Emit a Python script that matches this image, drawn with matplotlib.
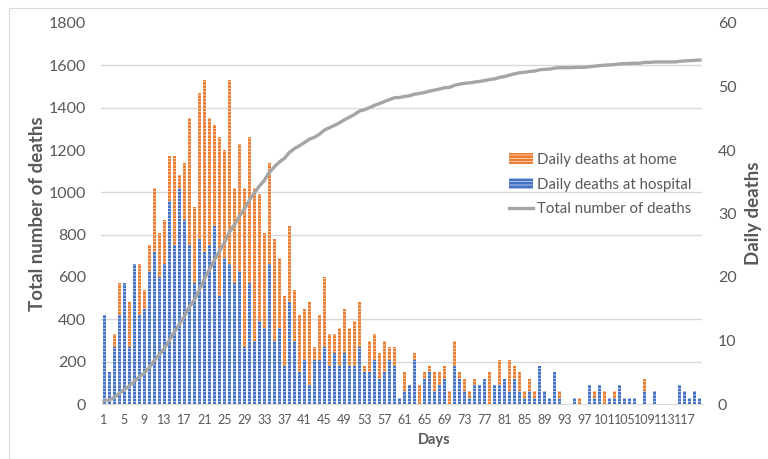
import matplotlib
matplotlib.use("Agg")
import matplotlib.pyplot as plt
import numpy as np
from matplotlib.patches import Rectangle, Patch
from matplotlib.lines import Line2D

plt.rcParams['font.family'] = ['Lato', 'DejaVu Sans']
plt.rcParams['hatch.linewidth'] = 0.4

days = np.arange(1, 121)

# daily deaths at hospital (days 1..120)
hospital = [14, 5, 9, 14, 19, 9, 22, 14, 15, 21,
            24, 20, 22, 32, 25, 34, 29, 25, 19, 26,
            24, 25, 28, 17, 23, 22, 19, 21, 9, 19,
            10, 13, 12, 22, 10, 12, 6, 16, 10, 5,
            7, 3, 7, 7, 9, 6, 8, 6, 8, 6,
            6, 9, 5, 5, 7, 4, 5, 7, 6, 1,
            2, 3, 7, 0, 4, 5, 2, 3, 4, 0,
            6, 4, 2, 1, 3, 3, 4, 0, 3, 3,
            4, 2, 4, 2, 1, 2, 1, 6, 2, 1,
            5, 1, 0, 0, 1, 0, 0, 3, 1, 3,
            0, 1, 1, 3, 1, 1, 1, 0, 2, 0,
            2, 0, 0, 0, 0, 3, 2, 1, 2, 1]

# daily deaths at home
home = [0, 0, 2, 5, 0, 7, 0, 8, 3, 4,
        10, 7, 7, 7, 14, 2, 9, 20, 12, 23,
        27, 20, 16, 25, 17, 29, 15, 20, 25, 23,
        24, 20, 15, 16, 16, 11, 11, 12, 8, 9,
        8, 13, 2, 7, 11, 5, 3, 6, 7, 6,
        7, 7, 1, 5, 4, 4, 5, 2, 3, 0,
        3, 0, 1, 3, 1, 1, 3, 2, 2, 2,
        4, 1, 2, 1, 1, 0, 0, 5, 0, 4,
        0, 5, 2, 3, 1, 2, 1, 0, 0, 0,
        0, 1, 0, 0, 0, 1, 0, 0, 1, 0,
        2, 0, 1, 0, 0, 0, 0, 0, 2, 0,
        0, 0, 0, 0, 0, 0, 0, 0, 0, 0]

hospital = np.array(hospital)
home = np.array(home)
# running total of all daily deaths
total = np.cumsum(hospital + home)

left_ticks = list(range(0, 2000, 200))
right_ticks = list(range(0, 70, 10))
x_ticks = list(range(1, 121, 4))

blue = "#4472C4"
orange = "#ED7D31"
grey = "#A5A5A5"
txt = "#595959"
gridc = "#D9D9D9"

fig = plt.figure(figsize=(7.68, 4.59), dpi=100)
ax = fig.add_axes([101.5 / 768, 1 - 404 / 459, 601 / 768, 381 / 459])
ax2 = ax.twinx()

# bars on the right (daily) axis
ax2.bar(days, hospital, width=0.6, color=blue, edgecolor="white",
        linewidth=0, hatch="-----")
ax2.bar(days, home, bottom=hospital, width=0.6, color=orange,
        edgecolor="white", linewidth=0, hatch="-----")
ax2.set_ylim(0, 60)
ax2.set_yticks(right_ticks)
# horizontal grid matching the left axis steps
ax2.set_yticks(np.array(left_ticks) / 30.0, minor=True)
ax2.yaxis.grid(True, which="minor", color=gridc, linewidth=1)
ax2.set_axisbelow(True)
ax2.tick_params(axis="y", which="both", length=0, labelsize=11.5,
                labelcolor=txt, pad=11)
ax2.set_ylabel("Daily deaths", fontsize=13.5, fontweight="bold", color=txt)
ax2.yaxis.set_label_coords(1.071, 0.5)

# cumulative line on the left axis, drawn above the bars
ax.plot(days, total, color=grey, linewidth=2.4)
ax.set_zorder(ax2.get_zorder() + 1)
ax.patch.set_visible(False)
ax.set_ylim(0, 1800)
ax.set_yticks(left_ticks)
ax.set_xlim(0.5, 120.5)
ax.set_xticks(x_ticks)
ax.set_xticklabels([str(d) for d in x_ticks])
ax.tick_params(axis="y", length=0, labelsize=11.5, labelcolor=txt, pad=11)
ax.tick_params(axis="x", length=0, labelsize=9, labelcolor=txt, pad=7)
ax.set_ylabel("Total number of deaths", fontsize=13.5, fontweight="bold", color=txt)
ax.yaxis.set_label_coords(-0.092, 0.5)
ax.set_xlabel("Days", fontsize=10.5, fontweight="bold", color=txt)
ax.xaxis.set_label_coords(0.553, -0.076)

for a in (ax, ax2):
    for s in ("left", "right", "top"):
        a.spines[s].set_visible(False)
    a.spines["bottom"].set_color(gridc)
ax2.spines["bottom"].set_visible(False)

handles = [Patch(facecolor=orange, edgecolor="white", linewidth=0, hatch="-----"),
           Patch(facecolor=blue, edgecolor="white", linewidth=0, hatch="-----"),
           Line2D([0], [0], color=grey, linewidth=2.4)]
labels = ["Daily deaths at home", "Daily deaths at hospital", "Total number of deaths"]
leg = ax.legend(handles, labels, loc="upper left", bbox_to_anchor=(0.668, 0.675),
                frameon=False, fontsize=10.8, labelcolor=txt, borderaxespad=0,
                handlelength=1.6, handletextpad=0.3, labelspacing=0.72)

# light chart-area border (left and top edges show in the picture)
fig.patches.append(Rectangle((9 / 768, -0.05), 1.1, (459 - 8) / 459 + 0.05,
                             transform=fig.transFigure, fill=False,
                             edgecolor=gridc, linewidth=0.8))

fig.savefig("out.png", dpi=100)
